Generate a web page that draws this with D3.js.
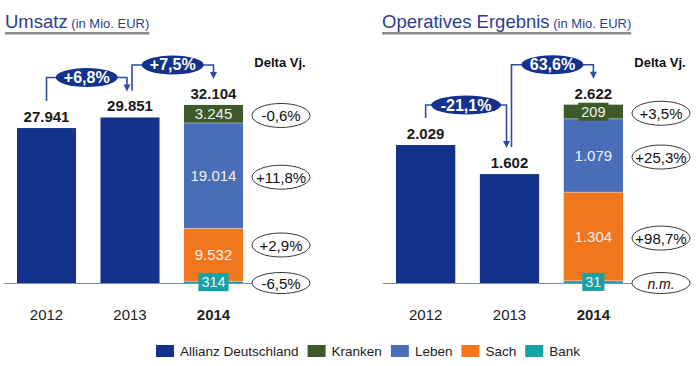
<!DOCTYPE html>
<html><head><meta charset="utf-8">
<script src="https://cdn.jsdelivr.net/npm/d3@7"></script>
<style>
body{margin:0;background:#fff;}
svg{font-family:"Liberation Sans",Arial,sans-serif;display:block;}
</style></head>
<body><svg id="chart" width="700" height="366"></svg>
<script>
// ---------- data ----------
const years = ["2012", "2013", "2014"];
const stackOrder = ["Bank", "Sach", "Leben", "Kranken"];
const legendNames = ["Allianz Deutschland", "Kranken", "Leben", "Sach", "Bank"];

const umsatzTotals = [27941, 29851, 32104];
const umsatz2014 = [314, 9532, 19014, 3245];          // Bank, Sach, Leben, Kranken
const umsatzDelta = ["-6,5%", "+2,9%", "+11,8%", "-0,6%"];
const umsatzChange = ["+6,8%", "+7,5%"];

const ergebnisTotals = [2029, 1602, 2622];
const ergebnis2014 = [31, 1304, 1079, 209];
const ergebnisDelta = ["n.m.", "+98,7%", "+25,3%", "+3,5%"];
const ergebnisChange = ["-21,1%", "63,6%"];

// ---------- style ----------
const colors = {
  "Allianz Deutschland": "#13328B",
  "Kranken": "#3E5A2A",
  "Leben": "#4A6DB8",
  "Sach": "#F0771E",
  "Bank": "#15A2A4"
};
const titleColor = "#2E3D8F";
const lineColor = "#2F4DA0";

const fmt = d3.formatLocale({decimal: ",", thousands: ".", grouping: [3], currency: ["", "€"]}).format(",d");
const svg = d3.select("#chart");

function panel(cfg) {
  const g = svg.append("g");
  const baseY = 283;
  const x = d3.scaleBand().domain(years).range(cfg.xRange).paddingInner(0.293).paddingOuter(0);
  const y = d3.scaleLinear().domain([0, cfg.yMax]).range([baseY, cfg.yTop]);
  const bw = x.bandwidth();
  const deltaX = cfg.xRange[1] + 38;

  // title
  const title = g.append("text").attr("x", cfg.titleX).attr("y", 28).attr("fill", titleColor);
  title.append("tspan").attr("font-size", 18.5).text(cfg.title);
  title.append("tspan").attr("font-size", 13).text(" (in Mio. EUR)");
  const tb = title.node().getBBox();
  g.append("rect").attr("x", tb.x).attr("y", 32).attr("width", tb.width).attr("height", 2.5).attr("fill", "#8A8A8A");

  // baseline
  g.append("line").attr("x1", cfg.xRange[0] - 13).attr("x2", deltaX - 29)
    .attr("y1", baseY + 0.5).attr("y2", baseY + 0.5).attr("stroke", "#7F8CBF").attr("stroke-width", 1);

  // solid bars 2012, 2013
  g.selectAll("rect.bar").data(years.slice(0, 2)).join("rect").attr("class", "bar")
    .attr("x", d => x(d)).attr("width", bw)
    .attr("y", (d, i) => y(cfg.totals[i])).attr("height", (d, i) => baseY - y(cfg.totals[i]))
    .attr("fill", colors["Allianz Deutschland"]);

  // stacked 2014
  let acc = 0;
  const segs = stackOrder.map((k, i) => {
    const s = {key: k, v: cfg.seg[i], y0: acc, y1: acc + cfg.seg[i], delta: cfg.delta[i]};
    acc += cfg.seg[i];
    return s;
  });
  g.selectAll("rect.seg").data(segs).join("rect").attr("class", "seg")
    .attr("x", x("2014")).attr("width", bw)
    .attr("y", d => y(d.y1)).attr("height", d => y(d.y0) - y(d.y1))
    .attr("fill", d => colors[d.key]);
  g.selectAll("line.sep").data(segs.slice(1)).join("line").attr("class", "sep")
    .attr("x1", x("2014")).attr("x2", x("2014") + bw)
    .attr("y1", d => y(d.y0)).attr("y2", d => y(d.y0))
    .attr("stroke", "#ffffff").attr("stroke-opacity", 0.5).attr("stroke-width", 0.8);

  // segment labels
  const cx14 = x("2014") + bw / 2;
  segs.forEach(d => {
    const h = y(d.y0) - y(d.y1);
    const cy = (y(d.y0) + y(d.y1)) / 2;
    if (h < 17) {
      const t = g.append("text").attr("x", cx14).attr("y", cy + 5).attr("text-anchor", "middle")
        .attr("font-size", 14.5).attr("fill", "#F2F2F2").text(fmt(d.v));
      const w = t.node().getComputedTextLength() + 6;
      g.insert("rect", () => t.node()).attr("x", cx14 - w / 2).attr("y", cy - 9).attr("width", w).attr("height", 18)
        .attr("fill", colors[d.key]);
    } else {
      g.append("text").attr("x", cx14).attr("y", cy + 5.5).attr("text-anchor", "middle")
        .attr("font-size", 15).attr("fill", "#F0F0F0").text(fmt(d.v));
    }
  });

  // totals above bars
  g.selectAll("text.tot").data(years).join("text").attr("class", "tot")
    .attr("x", d => x(d) + bw / 2).attr("y", (d, i) => y(cfg.totals[i]) - 6)
    .attr("text-anchor", "middle").attr("font-size", 15).attr("font-weight", "bold").attr("fill", "#1A1A1A")
    .text((d, i) => fmt(cfg.totals[i]));

  // category labels
  g.selectAll("text.cat").data(years).join("text").attr("class", "cat")
    .attr("x", d => x(d) + bw / 2).attr("y", 320).attr("text-anchor", "middle")
    .attr("font-size", 15).attr("font-weight", d => d === "2014" ? "bold" : "normal").attr("fill", "#222")
    .text(d => d);

  // Delta Vj. header
  g.append("text").attr("x", deltaX - 1).attr("y", 67).attr("text-anchor", "middle")
    .attr("font-size", 13).attr("font-weight", "bold").attr("fill", "#111").text("Delta Vj.");

  // delta ellipses
  const dPos = segs.map((d, i) => i === 0 ? baseY : (y(d.y0) + y(d.y1)) / 2 + 1.5);
  for (let i = 1; i < dPos.length; i++) {
    if (dPos[i - 1] - dPos[i] < 38) dPos[i] = dPos[i - 1] - 38;
  }
  segs.forEach((d, i) => {
    g.append("ellipse").attr("cx", deltaX).attr("cy", dPos[i]).attr("rx", 29).attr("ry", i === 0 ? 10.5 : 12)
      .attr("fill", "#fff").attr("stroke", "#222").attr("stroke-width", 0.9);
    g.append("text").attr("x", deltaX).attr("y", dPos[i] + 5.5).attr("text-anchor", "middle")
      .attr("font-size", d.delta === "n.m." ? 14 : 15).attr("font-style", d.delta === "n.m." ? "italic" : "normal")
      .attr("fill", "#111").text(d.delta);
  });

  // change connectors
  cfg.change.forEach((lab, i) => {
    const a = years[i], b = years[i + 1];
    const xa = x(a) + bw / 2 + (i === 0 ? 0 : 2);
    const xb = x(b) + bw / 2 - (i === 0 ? 3 : 0);
    const ya = y(cfg.totals[i]) - 27;
    const yb = y(cfg.totals[i + 1]) - 26;
    const lvl = y(Math.max(cfg.totals[i], cfg.totals[i + 1])) - 40;
    g.append("path").attr("d", `M${xa},${ya}V${lvl}H${xb}V${yb - 6}`)
      .attr("fill", "none").attr("stroke", lineColor).attr("stroke-width", 1.6);
    g.append("path").attr("d", `M${xb - 3.5},${yb - 7}L${xb + 3.5},${yb - 7}L${xb},${yb}Z`).attr("fill", lineColor);
    const mx = (xa + xb) / 2;
    g.append("ellipse").attr("cx", mx).attr("cy", lvl).attr("rx", lab.length > 5 ? 35 : 31).attr("ry", 9.5)
      .attr("fill", colors["Allianz Deutschland"]);
    g.append("text").attr("x", mx).attr("y", lvl + 5.5).attr("text-anchor", "middle")
      .attr("font-size", 16).attr("font-weight", "bold").attr("fill", "#fff").text(lab);
  });
}

panel({title: "Umsatz", titleX: 5, xRange: [17, 243], yMax: 33000, yTop: 100,
  totals: umsatzTotals, seg: umsatz2014, delta: umsatzDelta, change: umsatzChange});
panel({title: "Operatives Ergebnis", titleX: 382, xRange: [396, 623], yMax: 2700, yTop: 99.4,
  totals: ergebnisTotals, seg: ergebnis2014, delta: ergebnisDelta, change: ergebnisChange});

// legend
const lg = svg.append("g");
let lx = 156;
legendNames.forEach(n => {
  lg.append("rect").attr("x", lx).attr("y", 345).attr("width", 18).attr("height", 12).attr("fill", colors[n]);
  const t = lg.append("text").attr("x", lx + 24).attr("y", 356).attr("font-size", 13.5).attr("fill", "#222").text(n);
  lx += 24 + t.node().getComputedTextLength() + 9;
});
</script></body></html>
